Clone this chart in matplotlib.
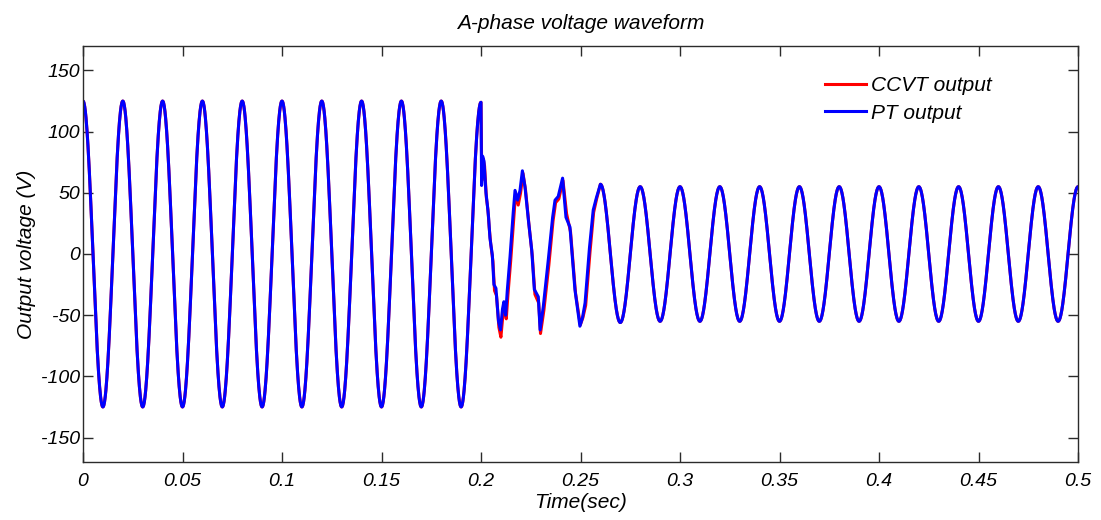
import numpy as np
import matplotlib
matplotlib.use("Agg")
import matplotlib.pyplot as plt

plt.rcParams["axes.unicode_minus"] = False

# ---------------- data ----------------
# half-cycle extrema (V) of the steady sinusoid, every 10 ms
pre_peak_times = [0.00, 0.01, 0.02, 0.03, 0.04, 0.05, 0.06, 0.07, 0.08, 0.09,
                  0.10, 0.11, 0.12, 0.13, 0.14, 0.15, 0.16, 0.17, 0.18, 0.19, 0.20]
pre_peak_values = [125, -125, 125, -125, 125, -125, 125, -125, 125, -125,
                   125, -125, 125, -125, 125, -125, 125, -125, 125, -125, 124]

post_peak_times = [0.26, 0.27, 0.28, 0.29, 0.30, 0.31, 0.32, 0.33, 0.34, 0.35,
                   0.36, 0.37, 0.38, 0.39, 0.40, 0.41, 0.42, 0.43, 0.44, 0.45,
                   0.46, 0.47, 0.48, 0.49, 0.50]
post_peak_values = [57, -56, 55, -55, 55, -55, 55, -55, 55, -55,
                    55, -55, 55, -55, 55, -55, 55, -55, 55, -55,
                    55, -55, 55, -55, 55]

pt_trans_t = [0.2003, 0.2008, 0.2015, 0.2025, 0.2032, 0.2038, 0.2045, 0.2057,
              0.2065, 0.2075, 0.2088, 0.2098, 0.2108, 0.2115, 0.2124, 0.2132,
              0.2146, 0.2162, 0.2171, 0.2184, 0.2196, 0.2208, 0.2221, 0.2238,
              0.2255, 0.2268, 0.2288, 0.2297, 0.2313, 0.2338, 0.2360, 0.2372,
              0.2388, 0.2410, 0.2427, 0.2447, 0.2472, 0.2497, 0.2510, 0.2523,
              0.2545, 0.2564, 0.2580]
pt_trans_v = [56, 80, 76, 50, 40, 30, 13, -1,
              -25, -28, -55, -62, -45, -39, -50, -30,
              -2, 34, 52, 44, 52, 68, 55, 28,
              3, -29, -35, -62, -43, -5, 30, 44,
              47, 62, 30, 22, -29, -59, -52, -40,
              5, 36, 46]

ccvt_trans_t = [0.2004, 0.2010, 0.2018, 0.2027, 0.2035, 0.2041, 0.2049, 0.2060,
                0.2068, 0.2078, 0.2090, 0.2100, 0.2110, 0.2118, 0.2127, 0.2135,
                0.2149, 0.2165, 0.2174, 0.2187, 0.2199, 0.2211, 0.2224, 0.2241,
                0.2258, 0.2271, 0.2290, 0.2299, 0.2316, 0.2341, 0.2362, 0.2375,
                0.2391, 0.2412, 0.2430, 0.2450, 0.2475, 0.2499, 0.2512, 0.2526,
                0.2548, 0.2566, 0.2581]
ccvt_trans_v = [60, 78, 72, 46, 36, 22, 8, -6,
                -30, -34, -60, -68, -50, -42, -53, -34,
                -6, 30, 50, 40, 50, 66, 52, 24,
                -2, -33, -40, -65, -46, -9, 27, 42,
                45, 60, 33, 18, -32, -58, -52, -42,
                2, 34, 45]

series_labels = ["CCVT output", "PT output"]
x_ticks = [0, 0.05, 0.1, 0.15, 0.2, 0.25, 0.3, 0.35, 0.4, 0.45, 0.5]
x_tick_labels = ["0", "0.05", "0.1", "0.15", "0.2", "0.25", "0.3", "0.35", "0.4", "0.45", "0.5"]
y_ticks = [-150, -100, -50, 0, 50, 100, 150]


def half_cycle_trace(times, values, n=60):
    """Join successive extrema with half-cycle (cosine-shaped) segments."""
    ts, vs = [], []
    for i in range(len(times) - 1):
        t0, t1 = times[i], times[i + 1]
        a, b = values[i], values[i + 1]
        t = np.linspace(t0, t1, n, endpoint=False)
        ph = (t - t0) / (t1 - t0) * np.pi
        ts.append(t)
        vs.append((a + b) / 2 + (a - b) / 2 * np.cos(ph))
    ts.append(np.array([times[-1]]))
    vs.append(np.array([values[-1]]))
    return np.concatenate(ts), np.concatenate(vs)


pre_t, pre_v = half_cycle_trace(pre_peak_times, pre_peak_values)
post_t, post_v = half_cycle_trace(post_peak_times, post_peak_values)

pt_t = np.concatenate([pre_t, pt_trans_t, post_t])
pt_v = np.concatenate([pre_v, pt_trans_v, post_v])
ccvt_t = np.concatenate([pre_t, ccvt_trans_t, post_t])
ccvt_v = np.concatenate([pre_v, ccvt_trans_v, post_v])

# ---------------- figure ----------------
W, H = 1101, 520
fig = plt.figure(figsize=(W / 100, H / 100), dpi=100)
ax = fig.add_axes([83 / W, 1 - 462 / H, (1078 - 83) / W, (462 - 46) / H])

fam = ["Liberation Sans", "DejaVu Sans"]
ax.plot(ccvt_t, ccvt_v, color=(1, 0, 0), lw=2.2, label=series_labels[0])
ax.plot(pt_t, pt_v, color=(0, 0, 1), lw=2.2, label=series_labels[1])

ax.set_xlim(0, 0.5)
ax.set_ylim(-170, 170)
ax.set_xticks(x_ticks)
ax.set_xticklabels(x_tick_labels)
ax.set_yticks(y_ticks)

edge = "#2b2b2b"
for s in ax.spines.values():
    s.set_color(edge)
    s.set_linewidth(1.0)
ax.tick_params(direction="in", length=7.5, width=1.0, color=edge,
               top=True, right=True, labelsize=14)
ax.tick_params(axis="x", pad=8)
ax.tick_params(axis="y", pad=2)
for lab in ax.get_xticklabels() + ax.get_yticklabels():
    lab.set_family(fam)
    lab.set_style("italic")
    lab.set_color("black")

ax.set_title("A-phase voltage waveform", family=fam, style="italic",
             fontsize=15, pad=12)
ax.set_xlabel("Time(sec)", family=fam, style="italic", fontsize=15, labelpad=2)
ax.set_ylabel("Output voltage (V)", family=fam, style="italic", fontsize=15,
              labelpad=4)

leg = ax.legend(loc="upper left", bbox_to_anchor=(815 / W, 1 - 66 / H),
                bbox_transform=fig.transFigure, frameon=False, borderpad=0,
                handlelength=1.95, handletextpad=0.25, labelspacing=0.4,
                prop={"family": fam, "style": "italic", "size": 15})

fig.savefig("out.png", dpi=100)
